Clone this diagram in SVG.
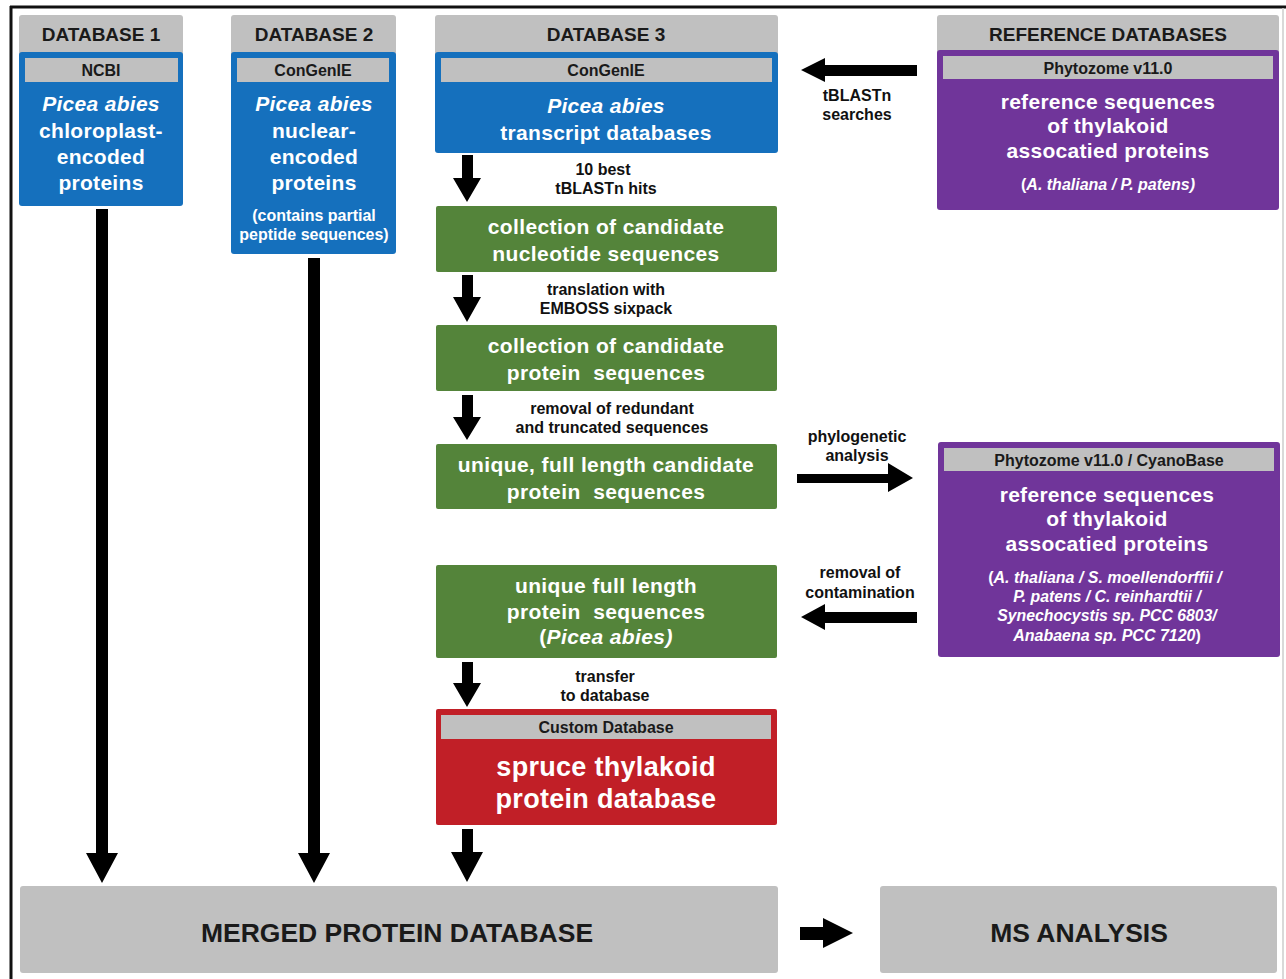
<svg xmlns="http://www.w3.org/2000/svg" width="1286" height="979" viewBox="0 0 1286 979">
<defs>
<style>
.hdr{fill:#c0c0c0}
.blue{fill:#1570bd}
.green{fill:#54843a}
.purple{fill:#70359a}
.red{fill:#c11f27}
.bar{fill:#c0c0c0}
text{font-family:"Liberation Sans",Arial,sans-serif;font-weight:bold;text-anchor:middle}
.h{font-size:19px;fill:#1a1a1a}
.b{font-size:16px;fill:#1a1a1a}
.w{font-size:21px;fill:#fff;letter-spacing:0.3px}
.ws{font-size:16px;fill:#fff}
.wi{font-size:15.8px;fill:#fff;font-style:italic}
.g{font-size:21px;fill:#fff;letter-spacing:0.4px}
.lbl{font-size:16px;fill:#111}
.big{font-size:26.5px;fill:#1a1a1a}
.red-t{font-size:27px;fill:#fff;letter-spacing:0.3px}
</style>
</defs>
<rect width="1286" height="979" fill="#fff"/>
<g id="frame">
<line x1="10" y1="7" x2="1286" y2="7" stroke="#111" stroke-width="3"/>
<line x1="11" y1="6" x2="11" y2="979" stroke="#111" stroke-width="3"/>
<line x1="1283" y1="8" x2="1283" y2="979" stroke="#ccc" stroke-width="1.5"/>
</g>
<g id="db1">
<rect class="hdr" x="19" y="15" width="164" height="45" rx="3"/>
<rect class="blue" x="19" y="52" width="164" height="154" rx="3"/>
<text class="h" x="101" y="41">DATABASE 1</text>
<rect class="bar" x="25" y="58" width="153" height="24"/>
<text class="b" x="101" y="76">NCBI</text>
<text class="w" x="101" y="111" font-style="italic">Picea abies</text>
<text class="w" x="101" y="138">chloroplast-</text>
<text class="w" x="101" y="164">encoded</text>
<text class="w" x="101" y="190">proteins</text>
</g>
<g id="db2">
<rect class="hdr" x="231" y="15" width="165" height="45" rx="3"/>
<rect class="blue" x="231" y="52" width="165" height="202" rx="3"/>
<text class="h" x="314" y="41">DATABASE 2</text>
<rect class="bar" x="237" y="58" width="152" height="24"/>
<text class="b" x="313" y="76">ConGenIE</text>
<text class="w" x="314" y="111" font-style="italic">Picea abies</text>
<text class="w" x="314" y="138">nuclear-</text>
<text class="w" x="314" y="164">encoded</text>
<text class="w" x="314" y="190">proteins</text>
<text class="ws" x="314" y="221">(contains partial</text>
<text class="ws" x="314" y="240">peptide sequences)</text>
</g>
<g id="db3">
<rect class="hdr" x="435" y="15" width="343" height="45" rx="3"/>
<rect class="blue" x="435" y="52" width="343" height="101" rx="3"/>
<text class="h" x="606" y="41">DATABASE 3</text>
<rect class="bar" x="441" y="58" width="331" height="24"/>
<text class="b" x="606" y="76">ConGenIE</text>
<text class="w" x="606" y="113" font-style="italic">Picea abies</text>
<text class="w" x="606" y="140">transcript databases</text>
</g>
<g id="refdb">
<rect class="hdr" x="937" y="15" width="342" height="45" rx="3"/>
<rect class="purple" x="937" y="50" width="342" height="160" rx="3"/>
<text class="h" x="1108" y="41">REFERENCE DATABASES</text>
<rect class="bar" x="943" y="56" width="330" height="23"/>
<text class="b" x="1108" y="74">Phytozome v11.0</text>
<text class="w" x="1108" y="109">reference sequences</text>
<text class="w" x="1108" y="133">of thylakoid</text>
<text class="w" x="1108" y="158">assocatied proteins</text>
<text class="ws" x="1108" y="190">(<tspan font-style="italic">A. thaliana / P. patens)</tspan></text>
</g>
<g id="cand-nuc">
<rect class="green" x="436" y="206" width="341" height="66" rx="2"/>
<text class="g" x="606" y="234">collection of candidate</text>
<text class="g" x="606" y="261">nucleotide sequences</text>
</g>
<g id="cand-prot">
<rect class="green" x="436" y="325" width="341" height="66" rx="2"/>
<text class="g" x="606" y="353">collection of candidate</text>
<text class="g" x="606" y="380">protein&#160; sequences</text>
</g>
<g id="unique-cand">
<rect class="green" x="436" y="444" width="341" height="65" rx="2"/>
<text class="g" x="606" y="472">unique, full length candidate</text>
<text class="g" x="606" y="499">protein&#160; sequences</text>
</g>
<g id="refdb2">
<rect class="purple" x="938" y="442" width="342" height="215" rx="3"/>
<rect class="bar" x="944" y="448" width="330" height="23"/>
<text class="b" x="1109" y="466">Phytozome v11.0 / CyanoBase</text>
<text class="w" x="1107" y="502">reference sequences</text>
<text class="w" x="1107" y="526">of thylakoid</text>
<text class="w" x="1107" y="551">assocatied proteins</text>
<text class="ws" x="1105" y="583" font-size="15.8">(<tspan font-style="italic">A. thaliana / S. moellendorffii /</tspan></text>
<text class="wi" x="1107" y="602">P. patens / C. reinhardtii /</text>
<text class="wi" x="1107" y="621">Synechocystis sp. PCC 6803/</text>
<text class="ws" x="1107" y="641" font-size="15.8"><tspan font-style="italic">Anabaena sp. PCC 7120</tspan>)</text>
</g>
<g id="unique-full">
<rect class="green" x="436" y="565" width="341" height="93" rx="2"/>
<text class="g" x="606" y="593">unique full length</text>
<text class="g" x="606" y="619">protein&#160; sequences</text>
<text class="g" x="606" y="644">(<tspan font-style="italic">Picea abies)</tspan></text>
</g>
<g id="custom">
<rect class="red" x="436" y="709" width="341" height="116" rx="2"/>
<rect class="bar" x="441" y="715" width="330" height="24"/>
<text class="b" x="606" y="733">Custom Database</text>
<text class="red-t" x="606" y="776">spruce thylakoid</text>
<text class="red-t" x="606" y="808">protein database</text>
</g>
<g id="merged">
<rect class="hdr" x="20" y="886" width="758" height="87" rx="3"/>
<text class="big" x="397" y="942">MERGED PROTEIN DATABASE</text>
</g>
<g id="ms">
<rect class="hdr" x="880" y="886" width="397" height="87" rx="3"/>
<text class="big" x="1079" y="942">MS ANALYSIS</text>
</g>
<g id="connectors" fill="#000">
<polygon points="96,209 108,209 108,853 118,853 102,883 86,853 96,853"/>
<polygon points="308,258 320,258 320,853 330,853 314,883 298,853 308,853"/>
<polygon points="462,829 473,829 473,852 483,852 467,882 451,852 462,852"/>
<polygon points="462,155 473,155 473,178 481,178 467,202 453,178 462,178"/>
<polygon points="462,275 473,275 473,297 481,297 467,322 453,297 462,297"/>
<polygon points="462,395 473,395 473,417 481,417 467,440 453,417 462,417"/>
<polygon points="462,662 473,662 473,683 481,683 467,707 453,683 462,683"/>
<polygon points="917,65 917,76 825,76 825,82 801,70 825,58 825,65"/>
<polygon points="797,474 888,474 888,463 913,478 888,492 888,483 797,483"/>
<polygon points="917,612 917,623 825,623 825,630 801,617 825,604 825,612"/>
<polygon points="800,927 823,927 823,918 853,933 823,948 823,940 800,940"/>
<text class="lbl" x="857" y="101">tBLASTn</text>
<text class="lbl" x="857" y="120">searches</text>
<text class="lbl" x="603" y="175">10 best</text>
<text class="lbl" x="606" y="194">tBLASTn hits</text>
<text class="lbl" x="606" y="295">translation with</text>
<text class="lbl" x="606" y="314">EMBOSS sixpack</text>
<text class="lbl" x="612" y="414">removal of redundant</text>
<text class="lbl" x="612" y="433">and truncated sequences</text>
<text class="lbl" x="857" y="442">phylogenetic</text>
<text class="lbl" x="857" y="461">analysis</text>
<text class="lbl" x="860" y="578">removal of</text>
<text class="lbl" x="860" y="598">contamination</text>
<text class="lbl" x="605" y="682">transfer</text>
<text class="lbl" x="605" y="701">to database</text>
</g>
</svg>
